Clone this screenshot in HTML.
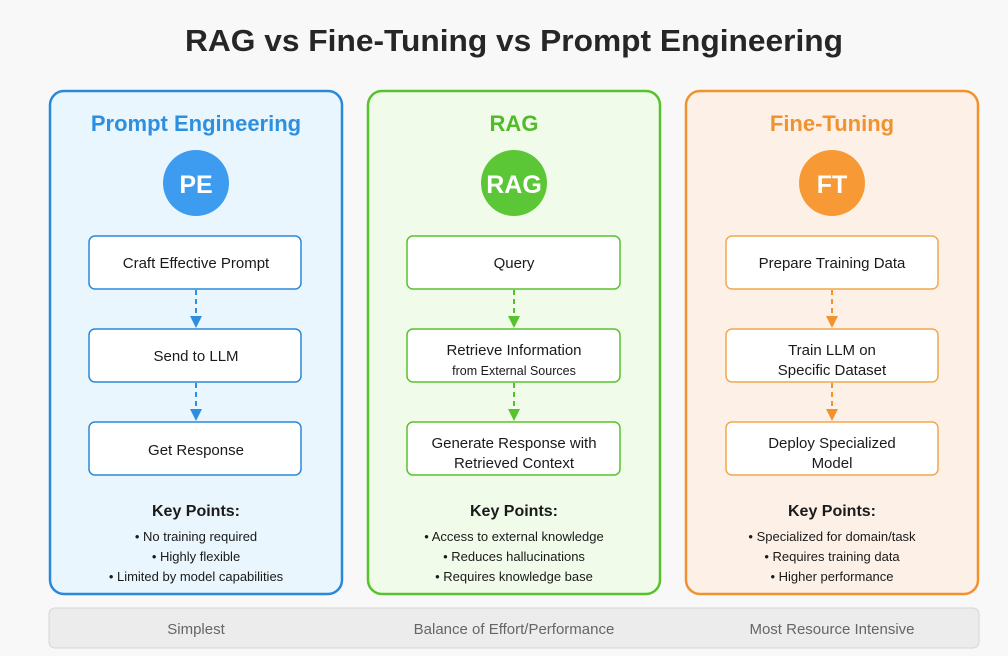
<!DOCTYPE html>
<html><head><meta charset="utf-8"><style>
html,body{margin:0;padding:0;background:#f8f8f8;}
svg{display:block;font-family:"Liberation Sans",Arial,sans-serif;}
</style></head><body>
<svg width="1008" height="656" viewBox="0 0 1008 656" xmlns="http://www.w3.org/2000/svg">
<rect width="1008" height="656" fill="#f8f8f8"/>
<text x="514" y="51" text-anchor="middle" font-size="31" font-weight="bold" fill="#262626" textLength="658" lengthAdjust="spacingAndGlyphs">RAG vs Fine-Tuning vs Prompt Engineering</text>

<defs>
<marker id="ab" markerWidth="10" markerHeight="10" refX="5" refY="9" orient="auto" markerUnits="userSpaceOnUse"><path d="M0,0 L10,0 L5,10 Z" fill="#2f8ee0" transform="translate(0,0)"/></marker>
</defs>

<!-- Blue panel -->
<rect x="50" y="91" width="292" height="503" rx="14" fill="#e9f6fd" stroke="#2a88d8" stroke-width="2.5"/>
<text x="196" y="131" text-anchor="middle" font-size="22" font-weight="bold" fill="#2d8fe0">Prompt Engineering</text>
<circle cx="196" cy="183" r="33" fill="#3d9cf0"/>
<text x="196" y="193" text-anchor="middle" font-size="25" font-weight="bold" fill="#fff">PE</text>
<g fill="#fff" stroke="#2a88d8" stroke-width="1.5">
<rect x="89" y="236" width="212" height="53" rx="6"/>
<rect x="89" y="329" width="212" height="53" rx="6"/>
<rect x="89" y="422" width="212" height="53" rx="6"/>
</g>
<g stroke="#2f8ee0" stroke-width="2" stroke-dasharray="5,4"><line x1="196" y1="290" x2="196" y2="318"/><line x1="196" y1="383" x2="196" y2="411"/></g>
<g fill="#2f8ee0"><path d="M190,316 L202,316 L196,328 Z"/><path d="M190,409 L202,409 L196,421 Z"/></g>
<g font-size="15" fill="#1a1a1a" text-anchor="middle">
<text x="196" y="268">Craft Effective Prompt</text>
<text x="196" y="361">Send to LLM</text>
<text x="196" y="455">Get Response</text>
</g>
<text x="196" y="516" text-anchor="middle" font-size="16" font-weight="bold" fill="#1a1a1a">Key Points:</text>
<g font-size="13" fill="#1a1a1a" text-anchor="middle">
<text x="196" y="541">• No training required</text>
<text x="196" y="561">• Highly flexible</text>
<text x="196" y="581">• Limited by model capabilities</text>
</g>

<!-- Green panel -->
<rect x="368" y="91" width="292" height="503" rx="14" fill="#f1fbea" stroke="#58c22e" stroke-width="2.5"/>
<text x="514" y="131" text-anchor="middle" font-size="22" font-weight="bold" fill="#52bb2a">RAG</text>
<circle cx="514" cy="183" r="33" fill="#5cc736"/>
<text x="514" y="193" text-anchor="middle" font-size="25" font-weight="bold" fill="#fff">RAG</text>
<g fill="#fff" stroke="#58c22e" stroke-width="1.5">
<rect x="407" y="236" width="213" height="53" rx="6"/>
<rect x="407" y="329" width="213" height="53" rx="6"/>
<rect x="407" y="422" width="213" height="53" rx="6"/>
</g>
<g stroke="#58c22e" stroke-width="2" stroke-dasharray="5,4"><line x1="514" y1="290" x2="514" y2="318"/><line x1="514" y1="383" x2="514" y2="411"/></g>
<g fill="#58c22e"><path d="M508,316 L520,316 L514,328 Z"/><path d="M508,409 L520,409 L514,421 Z"/></g>
<g font-size="15" fill="#1a1a1a" text-anchor="middle">
<text x="514" y="268">Query</text>
<text x="514" y="355">Retrieve Information</text>
<text x="514" y="375" font-size="12.5">from External Sources</text>
<text x="514" y="448">Generate Response with</text>
<text x="514" y="468">Retrieved Context</text>
</g>
<text x="514" y="516" text-anchor="middle" font-size="16" font-weight="bold" fill="#1a1a1a">Key Points:</text>
<g font-size="13" fill="#1a1a1a" text-anchor="middle">
<text x="514" y="541">• Access to external knowledge</text>
<text x="514" y="561">• Reduces hallucinations</text>
<text x="514" y="581">• Requires knowledge base</text>
</g>

<!-- Orange panel -->
<rect x="686" y="91" width="292" height="503" rx="14" fill="#fdf1e7" stroke="#f0922e" stroke-width="2.5"/>
<text x="832" y="131" text-anchor="middle" font-size="22" font-weight="bold" fill="#f0922e">Fine-Tuning</text>
<circle cx="832" cy="183" r="33" fill="#f79a36"/>
<text x="832" y="193" text-anchor="middle" font-size="25" font-weight="bold" fill="#fff">FT</text>
<g fill="#fff" stroke="#f0a84e" stroke-width="1.5">
<rect x="726" y="236" width="212" height="53" rx="6"/>
<rect x="726" y="329" width="212" height="53" rx="6"/>
<rect x="726" y="422" width="212" height="53" rx="6"/>
</g>
<g stroke="#f0922e" stroke-width="2" stroke-dasharray="5,4"><line x1="832" y1="290" x2="832" y2="318"/><line x1="832" y1="383" x2="832" y2="411"/></g>
<g fill="#f0922e"><path d="M826,316 L838,316 L832,328 Z"/><path d="M826,409 L838,409 L832,421 Z"/></g>
<g font-size="15" fill="#1a1a1a" text-anchor="middle">
<text x="832" y="268">Prepare Training Data</text>
<text x="832" y="355">Train LLM on</text>
<text x="832" y="375">Specific Dataset</text>
<text x="832" y="448">Deploy Specialized</text>
<text x="832" y="468">Model</text>
</g>
<text x="832" y="516" text-anchor="middle" font-size="16" font-weight="bold" fill="#1a1a1a">Key Points:</text>
<g font-size="13" fill="#1a1a1a" text-anchor="middle">
<text x="832" y="541">• Specialized for domain/task</text>
<text x="832" y="561">• Requires training data</text>
<text x="832" y="581">• Higher performance</text>
</g>

<!-- Bottom bar -->
<rect x="49" y="608" width="930" height="40" rx="6" fill="#ececec" stroke="#d6d6d6" stroke-width="1"/>
<g font-size="15" fill="#666" text-anchor="middle">
<text x="196" y="634">Simplest</text>
<text x="514" y="634">Balance of Effort/Performance</text>
<text x="832" y="634">Most Resource Intensive</text>
</g>
</svg>
</body></html>
